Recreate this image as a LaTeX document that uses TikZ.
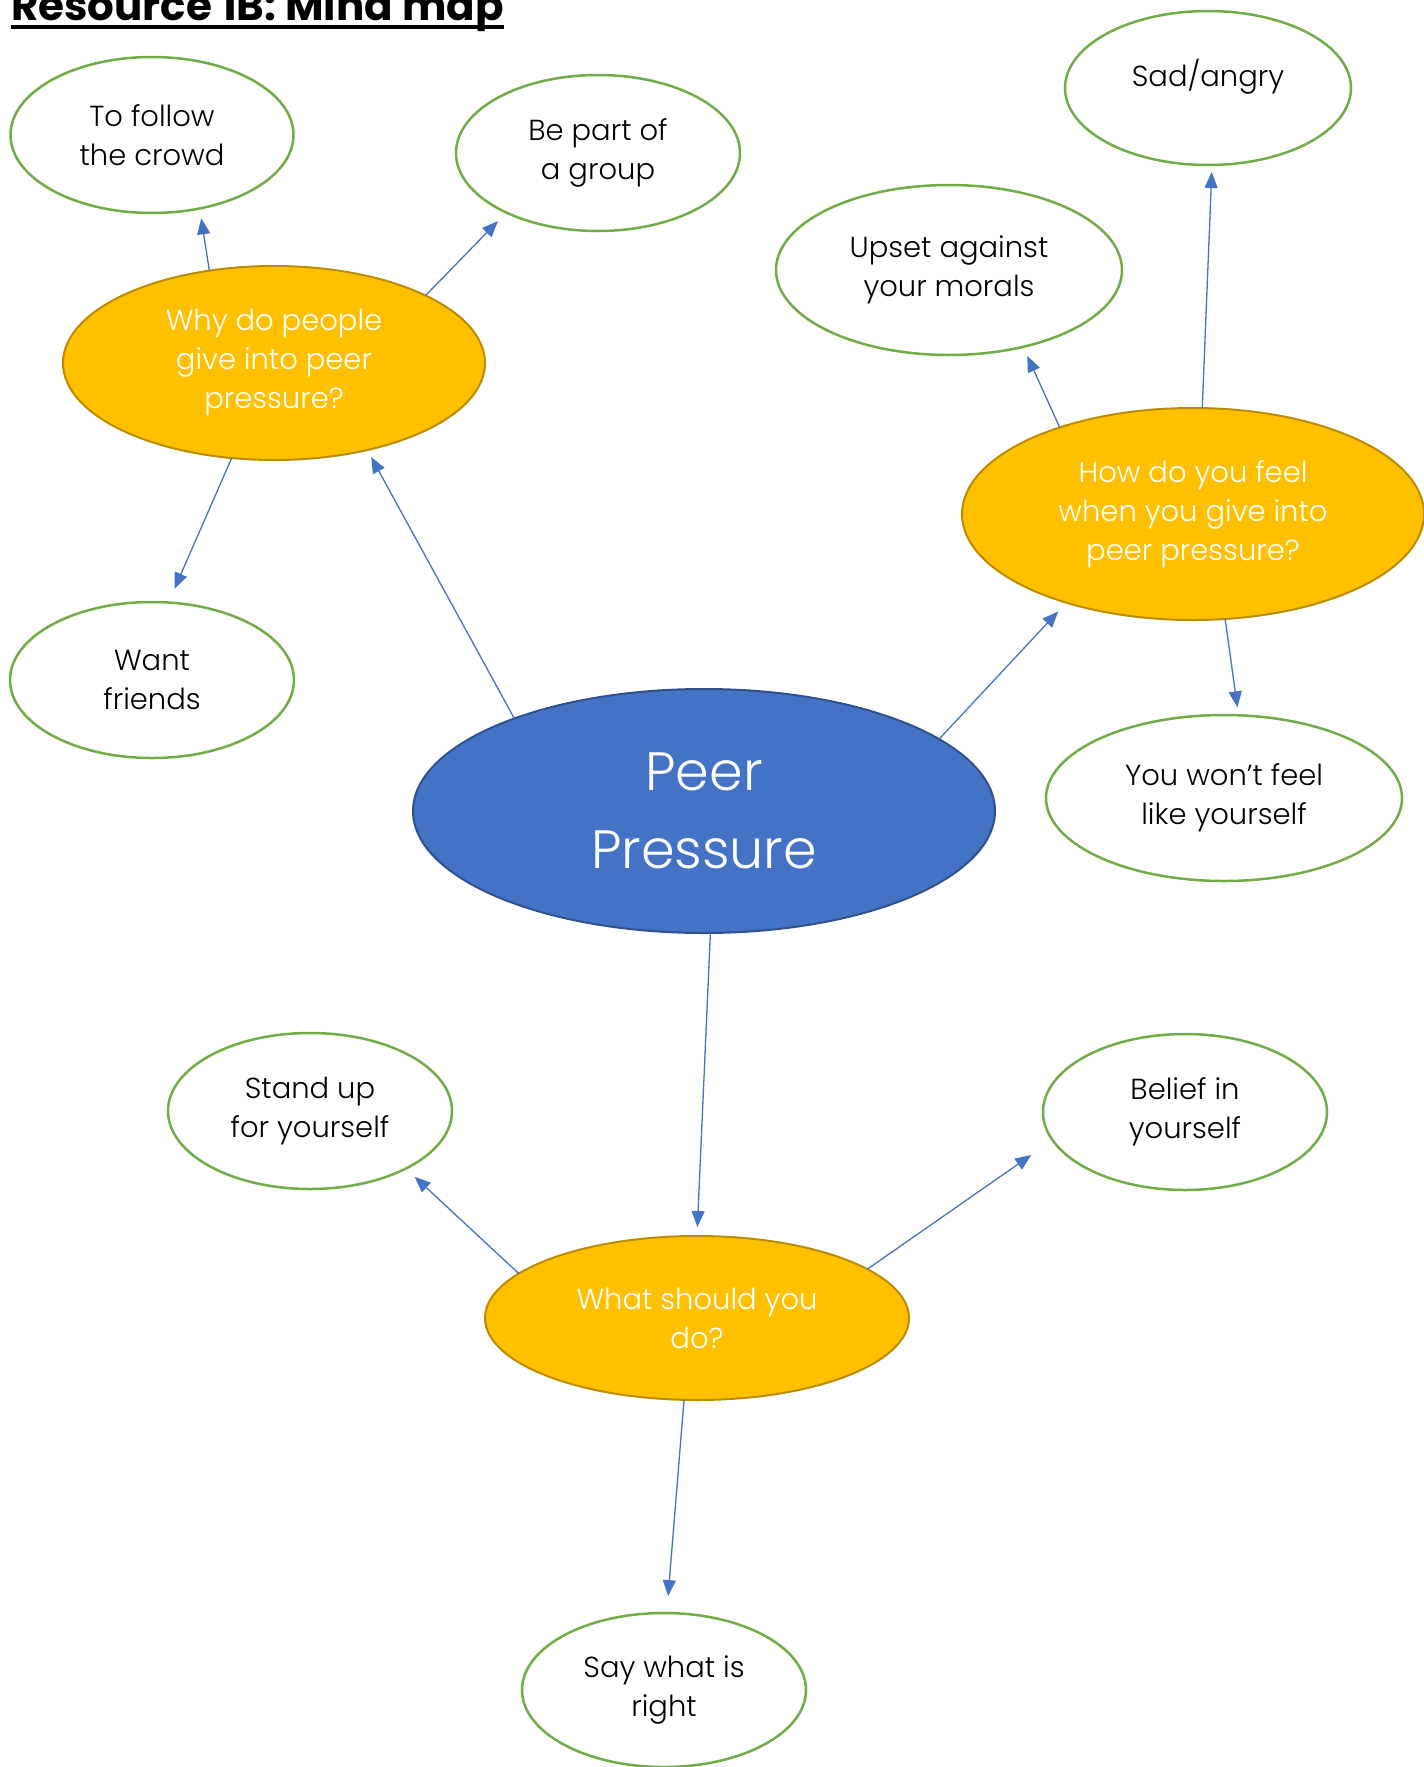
\documentclass[tikz,border=0pt]{standalone}
\usepackage{fontspec}
\setmainfont{Poppins}[UprightFont=* Light, BoldFont=* Bold]
\usetikzlibrary{arrows.meta,shapes.geometric}
\definecolor{peerblue}{HTML}{4472C4}
\definecolor{peeredge}{HTML}{2F528F}
\definecolor{gold}{HTML}{FFC000}
\definecolor{goldedge}{HTML}{BC8C00}
\definecolor{leafgreen}{HTML}{70AD47}
\begin{document}
\begin{tikzpicture}[x=1pt,y=-1pt,
  idea/.style={ellipse, draw=leafgreen, line width=2.5pt, fill=white, inner sep=0pt, outer sep=0pt, align=center, font=\fontsize{29}{39}\selectfont},
  question/.style={ellipse, draw=goldedge, line width=2pt, fill=gold, text=white, inner sep=0pt, outer sep=0pt, align=center, font=\fontsize{29}{39}\selectfont},
  core/.style={ellipse, draw=peeredge, line width=2pt, fill=peerblue, text=white, inner sep=0pt, outer sep=0pt, align=center, font=\fontsize{54}{78}\selectfont},
  link/.style={draw=peerblue, line width=1.3pt, -{Triangle[length=16pt,width=13pt]}}]
\useasboundingbox (0,0) rectangle (1424,1767);
\node[anchor=base west, inner sep=0pt, font=\bfseries\fontsize{42}{44}\selectfont] (title) at (11,20) {Resource 1B: Mind map};
\draw[line width=4pt] ([yshift=-7pt]title.base west) -- ([yshift=-7pt]title.base east);
\node[core, minimum width=582pt, minimum height=244pt] (peer) at (704,811) {Peer\\Pressure};
\node[question, minimum width=422pt, minimum height=194pt] (why) at (274,363) {Why do people\\give into peer\\pressure?};
\node[question, minimum width=462pt, minimum height=212pt] (how) at (1193,514) {How do you feel\\when you give into\\peer pressure?};
\node[question, minimum width=424pt, minimum height=164pt] (what) at (697,1318) {What should you\\do?};
\node[idea, minimum width=283pt, minimum height=156pt] (follow) at (152,135) {To follow\\the crowd};
\node[idea, minimum width=284pt, minimum height=156pt] (part) at (598,153) {Be part of\\a group};
\node[idea, minimum width=284pt, minimum height=156pt] (want) at (152,680) {Want\\friends};
\node[idea, minimum width=286pt, minimum height=154pt] (sad) at (1208,88) {\raisebox{11pt}[\height][\depth]{Sad/angry}};
\node[idea, minimum width=346pt, minimum height=170pt] (upset) at (949,270) {Upset against\\your morals};
\node[idea, minimum width=356pt, minimum height=166pt] (wont) at (1224,798) {You won’t feel\\like yourself};
\node[idea, minimum width=284pt, minimum height=156pt] (stand) at (310,1111) {Stand up\\for yourself};
\node[idea, minimum width=284pt, minimum height=156pt] (belief) at (1185,1112) {Belief in\\yourself};
\node[idea, minimum width=284pt, minimum height=154pt] (say) at (664,1690) {Say what is\\right};
\foreach \a/\b/\g in {peer.154/why.-43/8, why.125/follow.-57/10, why.24/part.213/12,
  why.-114/want.78/15, peer.17/how.215/12, how.147/upset.-46/10, how.85/sad.-87/7,
  how.-73/wont.80/8, peer.-87/what.90/9, what.166/stand.-31/12, what.16/belief.192/26,
  what.-99/say.88/17}
  \draw[link, shorten >=\g pt] (\a) -- (\b);
\end{tikzpicture}
\end{document}
